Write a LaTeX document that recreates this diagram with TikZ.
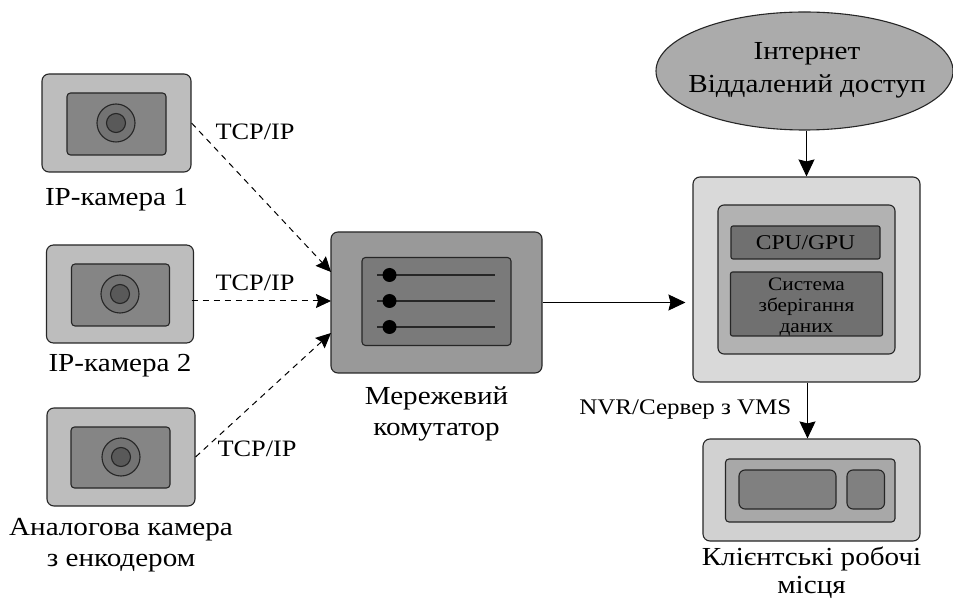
\documentclass[tikz,border=0pt]{standalone}
\usepackage{fontspec}
\setmainfont[FakeStretch=1.12]{Liberation Serif}
\usepackage{tikz}
\usetikzlibrary{arrows.meta,shapes.geometric,positioning}
\tikzset{
  outerbox/.style={draw=black!85, line width=1.1pt, rounded corners=7pt, inner sep=0pt},
  innerbox/.style={draw=black!85, line width=1.1pt, rounded corners=3.5pt, inner sep=0pt},
  lensring/.style={draw=black!85, line width=1.1pt, circle, inner sep=0pt, minimum size=38pt, fill=black!55},
  lenscore/.style={draw=black!85, line width=1.1pt, circle, inner sep=0pt, minimum size=19pt, fill=black!65},
  portdot/.style={circle, fill=black, inner sep=0pt, minimum size=14pt},
  portline/.style={line width=1.1pt, draw=black!85},
  caption/.style={align=center, font=\fontsize{26}{30.5}\selectfont, inner sep=0pt},
  netlabel/.style={font=\fontsize{23.5}{25}\selectfont, inner sep=0pt},
  flow/.style={line width=1pt, -{Stealth[length=17pt,width=16pt,inset=2pt]}},
  netflow/.style={line width=1pt, dashed, dash pattern=on 6pt off 5pt, -{Stealth[length=15pt,width=14pt,inset=2pt]}}
}

\begin{document}
\begin{tikzpicture}[x=1pt, y=-1pt]
  \useasboundingbox (0,0) rectangle (953,601);

  % cameras
  \node[outerbox, fill=black!26, minimum width=149pt, minimum height=98pt] (cam1) at (116.5,123) {};
  \node[innerbox, fill=black!48, minimum width=99pt, minimum height=62pt] (cam1body) at (116.5,124) {};
  \node[lensring] (cam1ring) at (116,123) {};
  \node[lenscore] (cam1lens) at (116,123) {};
  \node[caption, below=16pt of cam1] (cam1text) {IP-камера 1};

  \node[outerbox, fill=black!26, minimum width=147pt, minimum height=98pt] (cam2) at (120,294) {};
  \node[innerbox, fill=black!48, minimum width=98pt, minimum height=62pt] (cam2body) at (120.5,295) {};
  \node[lensring] (cam2ring) at (120,294) {};
  \node[lenscore] (cam2lens) at (120,294) {};
  \node[caption, below=11pt of cam2] (cam2text) {IP-камера 2};

  \node[outerbox, fill=black!26, minimum width=148pt, minimum height=98pt] (cam3) at (121,457) {};
  \node[innerbox, fill=black!48, minimum width=99pt, minimum height=61pt] (cam3body) at (120.5,457.5) {};
  \node[lensring] (cam3ring) at (121,457) {};
  \node[lenscore] (cam3lens) at (121,457) {};
  \node[caption, below=12pt of cam3] (cam3text) {Аналогова камера\\з енкодером};

  % switch
  \node[outerbox, fill=black!40, minimum width=211pt, minimum height=141pt] (switch) at (436.5,302.5) {};
  \node[innerbox, fill=black!52, minimum width=149pt, minimum height=88pt] (switchbody) at (436.5,301.5) {};
  \coordinate (port1a) at (377,275);
  \coordinate (port1b) at (495,275);
  \coordinate (port2a) at (377,301);
  \coordinate (port2b) at (495,301);
  \coordinate (port3a) at (377,327);
  \coordinate (port3b) at (495,327);
  \draw[portline] (port1a) -- (port1b);
  \draw[portline] (port2a) -- (port2b);
  \draw[portline] (port3a) -- (port3b);
  \node[portdot] (port1) at (389.5,275) {};
  \node[portdot] (port2) at (389.5,301) {};
  \node[portdot] (port3) at (389.5,327) {};
  \node[caption, below=13pt of switch] (switchtext) {Мережевий\\комутатор};

  % internet
  \node[ellipse, draw=black!85, line width=1.1pt, fill=black!33, minimum width=297pt, minimum height=118pt, inner sep=0pt] (net) at (804.5,71) {};
  \node[align=center, inner sep=0pt, xshift=2.5pt, yshift=1pt, font=\fontsize{26}{33}\selectfont] (nettext) at (net) {Інтернет\\Віддалений доступ};

  % server
  \node[outerbox, fill=black!15, minimum width=227pt, minimum height=205pt] (server) at (806.5,279.5) {};
  \node[innerbox, rounded corners=6pt, fill=black!30, minimum width=177pt, minimum height=149pt] (serverbody) at (806.5,279.5) {};
  \node[innerbox, rounded corners=2pt, fill=black!56, minimum width=149pt, minimum height=33pt, font=\fontsize{21}{25}\selectfont] (cpu) at (805.5,242.5) {CPU/GPU};
  \node[innerbox, rounded corners=2pt, fill=black!56, minimum width=152pt, minimum height=64pt] (storage) at (806.5,304) {};
  \node[align=center, inner sep=0pt, yshift=-3pt, font=\fontsize{19}{21}\selectfont] (storagetext) at (storage) {Система\\зберігання\\даних};
  \node[netlabel, left=15pt of server.south, anchor=north east, yshift=-17pt, font=\fontsize{22.3}{25}\selectfont] (servertext) {NVR/Сервер з VMS};

  % client
  \node[outerbox, fill=black!18, minimum width=217pt, minimum height=102pt] (client) at (811.5,490) {};
  \node[innerbox, fill=black!34, minimum width=169.5pt, minimum height=63pt] (clientbody) at (810.25,490.5) {};
  \node[innerbox, rounded corners=6pt, fill=black!50, minimum width=97pt, minimum height=39pt] (screen) at (787.5,489.5) {};
  \node[innerbox, rounded corners=6pt, fill=black!50, minimum width=37.5pt, minimum height=39pt] (keys) at (865.75,489.5) {};
  \node[caption, font=\fontsize{26}{28}\selectfont, below=5pt of client] (clienttext) {Клієнтські робочі\\місця};

  % connectors
  \coordinate (in1) at (331,272);
  \coordinate (in2) at (331,301);
  \coordinate (in3) at (331,333);
  \draw[netflow] (cam1.east) -- (in1);
  \draw[netflow] ([xshift=-2.5pt]cam2.east |- in2) -- (in2);
  \draw[netflow] (cam3.east) -- (in3);
  \node[netlabel] (tcp1) at (255,132) {TCP/IP};
  \node[netlabel] (tcp2) at (255,283) {TCP/IP};
  \node[netlabel] (tcp3) at (257,449) {TCP/IP};
  \draw[flow, shorten >=7pt] (switch.east) -- (switch.east -| server.west);
  \draw[flow] (server.north |- net.south) -- (server.north);
  \draw[flow] ([xshift=1pt]server.south) -- ([xshift=1pt]server.south |- client.north);
\end{tikzpicture}
\end{document}
